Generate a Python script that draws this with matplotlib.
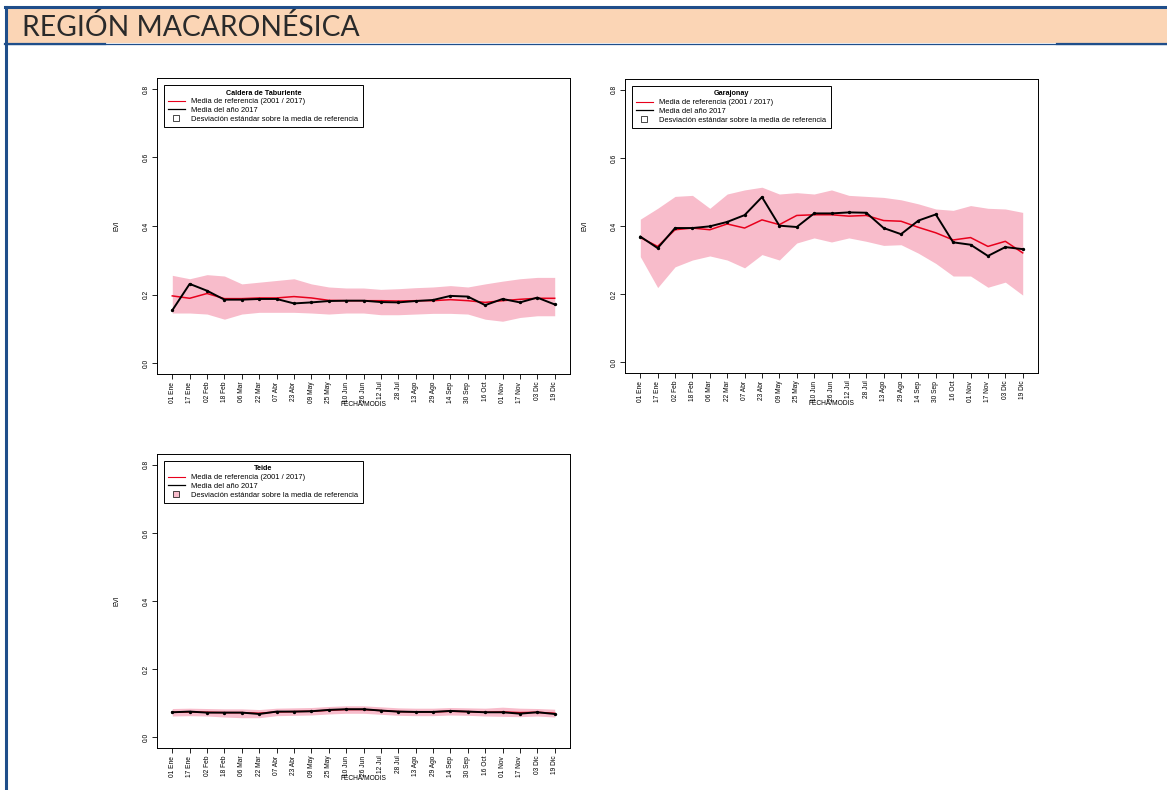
# -*- coding: utf-8 -*-
"""
EVI MODIS de la región macaronésica: media de referencia, media de 2017
y banda de desviación estándar, para tres parques.
"""

import matplotlib
matplotlib.use("Agg")
import matplotlib.pyplot as plt
from matplotlib.patches import Rectangle
from matplotlib.lines import Line2D

W, H = 1167, 790

fechas = ["01 Ene", "17 Ene", "02 Feb", "18 Feb", "06 Mar", "22 Mar", "07 Abr",
          "23 Abr", "09 May", "25 May", "10 Jun", "26 Jun", "12 Jul", "28 Jul",
          "13 Ago", "29 Ago", "14 Sep", "30 Sep", "16 Oct", "01 Nov", "17 Nov",
          "03 Dic", "19 Dic"]

# Caldera de Taburiente
tab_ref = [0.196, 0.189, 0.203, 0.188, 0.188, 0.190, 0.190, 0.194, 0.190, 0.183,
           0.182, 0.182, 0.182, 0.181, 0.182, 0.182, 0.185, 0.182, 0.177, 0.182,
           0.186, 0.189, 0.189]
tab_2017 = [0.154, 0.231, 0.211, 0.185, 0.185, 0.187, 0.187, 0.174, 0.177, 0.181,
            0.182, 0.182, 0.178, 0.177, 0.181, 0.184, 0.196, 0.194, 0.169, 0.187,
            0.177, 0.191, 0.171]
tab_sup = [0.256, 0.246, 0.258, 0.254, 0.231, 0.236, 0.241, 0.246, 0.231, 0.222,
           0.219, 0.219, 0.215, 0.217, 0.220, 0.222, 0.226, 0.222, 0.231, 0.239,
           0.246, 0.250, 0.250]
tab_inf = [0.146, 0.146, 0.143, 0.128, 0.143, 0.148, 0.148, 0.148, 0.146, 0.143,
           0.146, 0.146, 0.141, 0.141, 0.143, 0.145, 0.145, 0.143, 0.128, 0.122,
           0.133, 0.138, 0.138]

# Garajonay
gar_ref = [0.366, 0.340, 0.389, 0.394, 0.389, 0.406, 0.394, 0.418, 0.404, 0.431,
           0.433, 0.433, 0.429, 0.431, 0.416, 0.414, 0.396, 0.380, 0.359, 0.366,
           0.340, 0.355, 0.321]
gar_2017 = [0.369, 0.335, 0.394, 0.394, 0.399, 0.412, 0.432, 0.485, 0.401, 0.397,
            0.437, 0.437, 0.440, 0.439, 0.394, 0.376, 0.416, 0.434, 0.352, 0.345,
            0.312, 0.338, 0.332]
gar_sup = [0.420, 0.452, 0.487, 0.490, 0.452, 0.494, 0.506, 0.514, 0.494, 0.498,
           0.494, 0.506, 0.490, 0.487, 0.484, 0.477, 0.465, 0.450, 0.446, 0.460,
           0.452, 0.450, 0.440]
gar_inf = [0.310, 0.219, 0.280, 0.300, 0.312, 0.300, 0.277, 0.316, 0.300, 0.350,
           0.365, 0.353, 0.365, 0.355, 0.343, 0.345, 0.320, 0.290, 0.253, 0.253,
           0.220, 0.235, 0.197]

# Teide
tei_ref = [0.073, 0.074, 0.073, 0.072, 0.072, 0.070, 0.074, 0.075, 0.076, 0.079,
           0.081, 0.081, 0.078, 0.075, 0.074, 0.074, 0.076, 0.075, 0.073, 0.074,
           0.072, 0.073, 0.070]
tei_2017 = [0.073, 0.075, 0.072, 0.072, 0.072, 0.068, 0.075, 0.075, 0.076, 0.080,
            0.082, 0.082, 0.078, 0.075, 0.074, 0.074, 0.077, 0.075, 0.073, 0.073,
            0.069, 0.073, 0.068]
tei_sup = [0.084, 0.085, 0.084, 0.083, 0.083, 0.081, 0.085, 0.086, 0.087, 0.090,
           0.092, 0.092, 0.089, 0.086, 0.085, 0.085, 0.087, 0.086, 0.085, 0.088,
           0.085, 0.084, 0.082]
tei_inf = [0.062, 0.063, 0.062, 0.059, 0.057, 0.057, 0.063, 0.064, 0.065, 0.068,
           0.070, 0.070, 0.067, 0.064, 0.063, 0.063, 0.065, 0.064, 0.062, 0.061,
           0.060, 0.062, 0.059]

yticks = [0.0, 0.2, 0.4, 0.6, 0.8]
FUENTE = ["Liberation Sans", "DejaVu Sans"]
ROSA = "#f8bccb"


def caja(x0, y0, x1, y1):
    """pixeles -> fracciones de figura"""
    return [x0 / W, 1 - y1 / H, (x1 - x0) / W, (y1 - y0) / H]


def grafico(fig, px, titulo, ref, anio, sup, inf, relleno):
    ax = fig.add_axes(caja(*px))
    x = list(range(len(fechas)))
    ax.fill_between(x, inf, sup, color=ROSA, lw=0)
    ax.plot(x, ref, color="#e8001c", lw=1.1)
    ax.plot(x, anio, color="black", lw=1.4, marker="o", markersize=1.4)
    ax.set_xlim(-0.88, 22.88)
    ax.set_ylim(-0.032, 0.832)
    ax.set_xticks(x)
    ax.set_xticklabels(fechas, rotation=90, fontsize=4.8, family=FUENTE)
    ax.set_yticks(yticks)
    ax.set_yticklabels(["%.1f" % v for v in yticks], rotation=90, va="center",
                       fontsize=4.8, family=FUENTE)
    ax.tick_params(direction="out", length=3.5, width=0.6, pad=2)
    for s in ax.spines.values():
        s.set_linewidth(0.7)
    x0, y0, x1, y1 = px
    fig.text((x0 + x1) / 2 / W, 1 - (y1 + 31) / H, "FECHA/MODIS", ha="center",
             va="center", fontsize=4.8, family=FUENTE)
    fig.text((x0 - 40) / W, 1 - (y0 + y1) / 2 / H, "EVI", rotation=90,
             ha="center", va="center", fontsize=4.8, family=FUENTE)

    manejadores = [
        Line2D([], [], color="#e8001c", lw=0.8),
        Line2D([], [], color="black", lw=0.9),
        Line2D([], [], ls="none", marker="s", markersize=4, mec="black",
               mew=0.5, mfc=relleno),
    ]
    textos = ["Media de referencia (2001 / 2017)", "Media del año 2017",
              "Desviación estándar sobre la media de referencia"]
    leg = ax.legend(manejadores, textos, loc="upper left",
                    bbox_to_anchor=(0.017, 0.975), borderaxespad=0,
                    prop={"family": FUENTE, "size": 5.4}, handlelength=2.2,
                    handletextpad=0.9, labelspacing=0.2, borderpad=0.55,
                    fancybox=False, framealpha=1, edgecolor="black",
                    title=titulo,
                    title_fontproperties={"family": FUENTE, "size": 5.2,
                                          "weight": "bold"})
    leg.get_frame().set_linewidth(0.7)
    return ax


fig = plt.figure(figsize=(W / 100, H / 100), dpi=100)

# cabecera
fig.add_artist(Rectangle((5 / W, 1 - 43 / H), 1, 36 / H,
                         transform=fig.transFigure, facecolor="#fbd5b5",
                         edgecolor="none"))
azul = "#1f4e8a"
fig.add_artist(Line2D([5 / W, 1], [1 - 7 / H, 1 - 7 / H], color=azul, lw=2.2,
                      transform=fig.transFigure))
fig.add_artist(Line2D([5 / W, 1], [1 - 43.5 / H, 1 - 43.5 / H], color=azul,
                      lw=0.9, transform=fig.transFigure))
fig.add_artist(Line2D([5 / W, 105 / W], [1 - 44 / H, 1 - 44 / H], color=azul,
                      lw=1.6, transform=fig.transFigure))
fig.add_artist(Line2D([1057 / W, 1], [1 - 44 / H, 1 - 44 / H], color=azul,
                      lw=1.6, transform=fig.transFigure))
fig.add_artist(Line2D([6 / W, 6 / W], [0, 1 - 7 / H], color=azul, lw=2.2,
                      transform=fig.transFigure))
fig.text(22 / W, 1 - 27 / H, "REGIÓN MACARONÉSICA", ha="left", va="center",
         fontsize=20.3, family=["Lato", "DejaVu Sans"], color="#2a2a2a")

grafico(fig, (157, 78, 570, 374), "Caldera de Taburiente",
        tab_ref, tab_2017, tab_sup, tab_inf, "none")
grafico(fig, (625, 79, 1038, 373), "Garajonay",
        gar_ref, gar_2017, gar_sup, gar_inf, "none")
grafico(fig, (157, 454, 570, 748), "Teide",
        tei_ref, tei_2017, tei_sup, tei_inf, ROSA)

fig.savefig("out.png", dpi=100)
